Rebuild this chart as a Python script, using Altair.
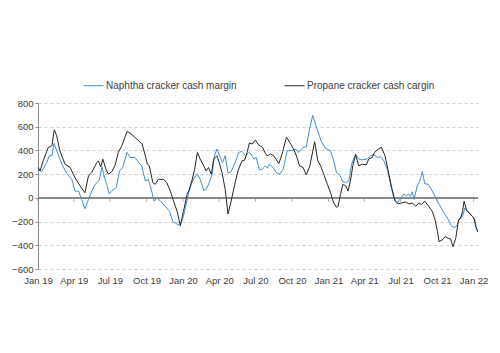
import altair as alt
import pandas as pd

START = pd.Timestamp("2019-01-01")

series_names = ["Naphtha cracker cash margin", "Propane cracker cash cargin"]
series_colors = ["#3f8fd2", "#262626"]

# days since 1 Jan 2019, and margin values ($/t)
naphtha_days = [0, 9, 22, 28, 35, 40, 47, 60, 72, 85, 93, 102, 110, 118, 127, 135, 144, 154, 161, 166,
                173, 179, 186, 197, 205, 213, 224, 232, 244, 253, 261, 270, 278, 287, 292, 299, 307, 320,
                331, 339, 350, 358, 366, 379, 387, 396, 401, 408, 417, 423, 431, 438, 444, 450, 459, 464,
                471, 478, 486, 496, 505, 513, 522, 530, 536, 543, 549, 557, 564, 572, 577, 582, 590, 600,
                608, 617, 627, 639, 648, 656, 667, 675, 681, 691, 702, 712, 723, 736, 744, 751, 761, 765,
                774, 782, 789, 799, 807, 816, 828, 837, 845, 854, 862, 870, 879, 887, 895, 904, 912, 921,
                927, 932, 937, 942, 946, 954, 960, 967, 973, 982, 992, 1005, 1017, 1030, 1041, 1049, 1055,
                1061, 1068, 1074, 1080, 1086, 1093, 1099, 1103, 1107]
naphtha_values = [241, 222, 298, 355, 355, 460, 398, 284, 207, 156, 57, 57, -14, -91, -14, 57, 114, 148, 261, 185,
                  114, 34, 60, 88, 227, 256, 383, 341, 341, 298, 270, 142, 156, 43, -28, 0, -23, -71,
                  -114, -199, -222, -233, -156, 40, 128, 185, 199, 156, 63, 71, 128, 199, 355, 412, 341, 298,
                  355, 207, 222, 298, 383, 392, 355, 383, 369, 327, 341, 236, 241, 270, 250, 284, 261, 213,
                  199, 241, 398, 398, 412, 383, 426, 432, 540, 696, 582, 483, 418, 398, 312, 213, 185, 142,
                  128, 142, 284, 369, 327, 321, 327, 355, 364, 341, 346, 312, 241, 114, 0, -43, -6, 34,
                  14, 34, 14, 51, -14, 100, 136, 222, 119, 114, 57, -28, -100, -170, -241, -250, -227,
                  -170, -156, -85, -114, -128, -156, -185, -256, -284]

propane_days = [0, 5, 13, 26, 35, 41, 47, 55, 68, 81, 93, 106, 118, 127, 135, 148, 152, 158, 163, 171,
                177, 186, 194, 202, 211, 224, 232, 244, 257, 262, 270, 275, 280, 289, 295, 303, 316, 324,
                333, 341, 350, 358, 366, 375, 379, 387, 394, 401, 408, 417, 423, 429, 436, 442, 450, 456,
                463, 471, 478, 486, 495, 503, 513, 520, 526, 532, 539, 547, 555, 565, 572, 576, 585, 593,
                606, 614, 625, 633, 643, 650, 658, 667, 675, 684, 696, 704, 711, 719, 728, 736, 744, 751,
                755, 761, 767, 775, 780, 786, 792, 799, 807, 816, 826, 832, 841, 847, 856, 864, 873, 881,
                890, 898, 906, 915, 925, 933, 942, 950, 958, 965, 973, 983, 992, 999, 1005, 1009, 1017,
                1024, 1032, 1038, 1044, 1051, 1058, 1063, 1068, 1072, 1078, 1084, 1093, 1097, 1101, 1107]
propane_values = [260, 227, 312, 426, 440, 574, 525, 398, 284, 256, 170, 100, 43, 185, 213, 298, 312, 261, 327, 241,
                  199, 222, 275, 383, 440, 560, 545, 511, 469, 454, 355, 284, 270, 128, 114, 156, 156, 128,
                  57, -28, -114, -233, -114, 28, 57, 142, 241, 383, 327, 270, 227, 256, 199, 327, 355, 298,
                  213, 71, -136, -28, 114, 227, 312, 318, 383, 463, 454, 488, 446, 426, 375, 355, 369, 355,
                  290, 369, 511, 469, 412, 355, 270, 256, 193, 270, 474, 312, 270, 199, 114, 43, -43, -80,
                  -71, 28, 114, 100, 57, 142, 270, 364, 270, 284, 278, 327, 341, 383, 412, 426, 355, 227,
                  85, -23, -51, -43, -34, -51, -43, -71, -43, -57, -28, -71, -114, -185, -284, -369, -355,
                  -327, -341, -346, -412, -341, -185, -176, -114, -28, -100, -128, -156, -170, -241, -290]

quarter_ticks = ["2019-01-01", "2019-04-01", "2019-07-01", "2019-10-01", "2020-01-01", "2020-04-01",
                 "2020-07-01", "2020-10-01", "2021-01-01", "2021-04-01", "2021-07-01", "2021-10-01",
                 "2022-01-01"]
y_ticks = [-600, -400, -200, 0, 200, 400, 600, 800]

frames = []
for name, days, vals in [(series_names[0], naphtha_days, naphtha_values),
                         (series_names[1], propane_days, propane_values)]:
    f = pd.DataFrame({"days": days, "value": vals})
    f["series"] = name
    frames.append(f)
df = pd.concat(frames, ignore_index=True)
df["date"] = (START + pd.to_timedelta(df["days"], unit="D")).dt.strftime("%Y-%m-%dT00:00:00")

ticks_df = pd.DataFrame({"date": [d + "T00:00:00" for d in quarter_ticks], "v": [0] * len(quarter_ticks)})

FONT = "Liberation Sans"
TXT = "#404040"
AX = "#8c8c8c"

x_scale = alt.Scale(domain=[alt.DateTime(year=2019, month=1, date=1),
                            alt.DateTime(year=2022, month=1, date=12)], nice=False)
y_scale = alt.Scale(domain=[-600, 800], nice=False)

x_axis = alt.Axis(values=[alt.DateTime(year=int(d[:4]), month=int(d[5:7]), date=1) for d in quarter_ticks],
                  format="%b %y", domain=False, ticks=False, grid=False, labelOverlap=False,
                  labelFlush=False, labelAlign="center",
                  labelFont=FONT, labelFontSize=9.5, labelColor=TXT, labelPadding=6)
y_axis = alt.Axis(values=y_ticks, domainColor=AX, tickColor=AX, tickSize=3, labelOverlap=False,
                  labelFlush=False,
                  grid=True, gridColor="#cfcfcf", gridDash=[3, 3], format="d",
                  labelFont=FONT, labelFontSize=9.5, labelColor=TXT, labelPadding=2)

lines = alt.Chart(df).mark_line(strokeWidth=1, clip=True).encode(
    x=alt.X("date:T", scale=x_scale, title=None, axis=x_axis),
    y=alt.Y("value:Q", scale=y_scale, title=None, axis=y_axis),
    color=alt.Color("series:N", scale=alt.Scale(domain=series_names, range=series_colors),
                    legend=alt.Legend(title=None, orient="none", legendX=45, legendY=-28,
                                      direction="horizontal", columns=2, columnPadding=45,
                                      symbolType="stroke", symbolSize=400, symbolStrokeWidth=1,
                                      labelFont=FONT, labelFontSize=10, labelColor=TXT,
                                      labelLimit=0, labelOffset=2)),
    detail="series:N",
)

zero = alt.Chart(ticks_df).mark_rule(color=AX, strokeWidth=1).encode(
    y=alt.Y("v:Q", scale=y_scale, title=None, axis=y_axis))

tick_marks = alt.Chart(ticks_df).mark_tick(orient="vertical", size=4, thickness=1, color=AX, yOffset=2).encode(
    x=alt.X("date:T", scale=x_scale, title=None, axis=x_axis),
    y=alt.Y("v:Q", scale=y_scale, title=None, axis=y_axis),
)

chart = alt.layer(zero, tick_marks, lines).properties(
    width=440, height=166,
    autosize=alt.AutoSizeParams(type="none"),
    padding={"left": 38, "top": 103, "right": 22, "bottom": 84},
).configure(background="white").configure_view(stroke=None)

chart.save("out.html", embed_options={"renderer": "svg", "actions": False})
